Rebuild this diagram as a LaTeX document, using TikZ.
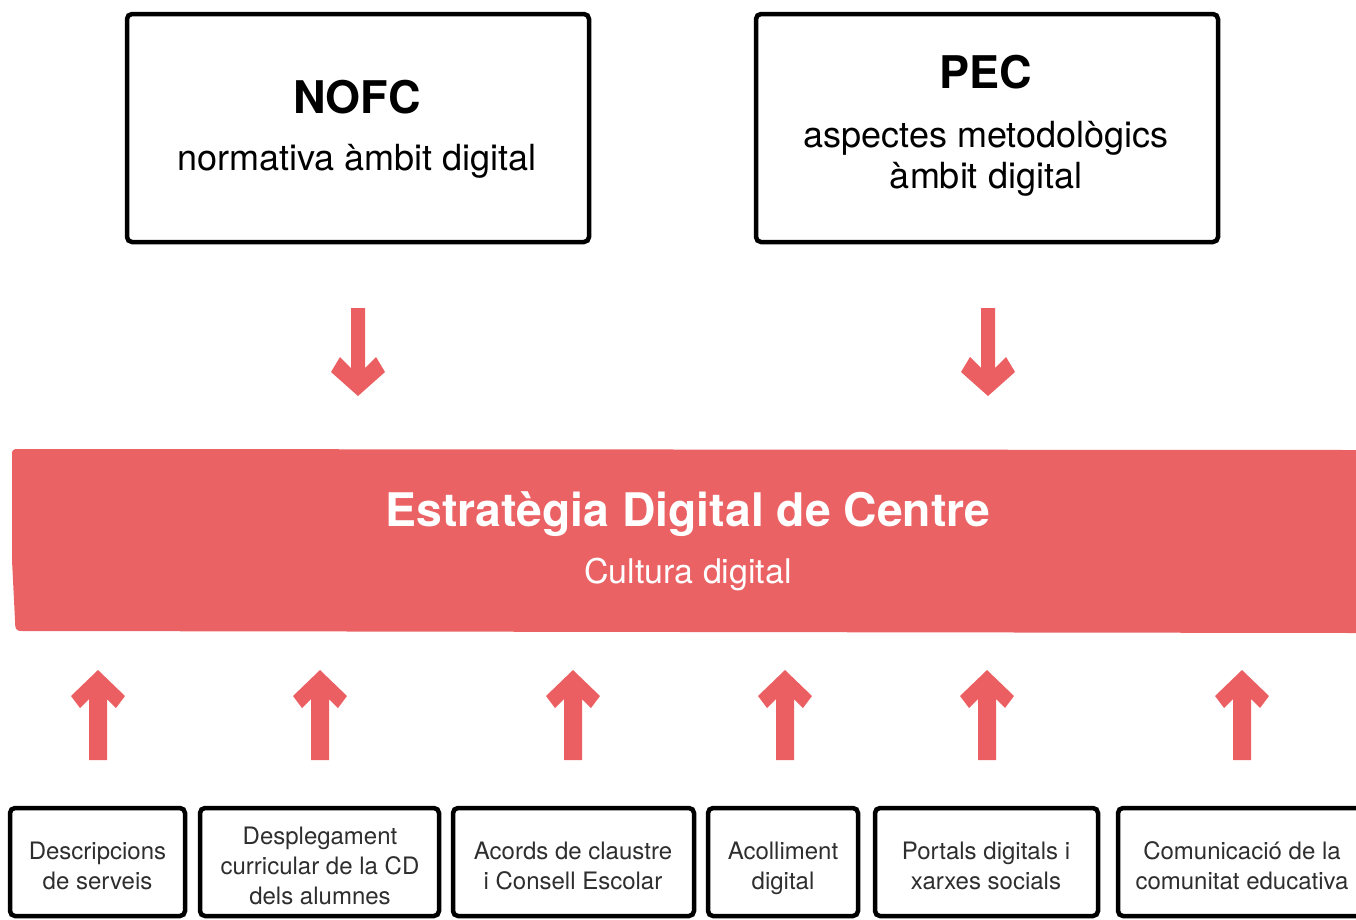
\documentclass[tikz,border=0pt]{standalone}
\usepackage{fontspec}
\setmainfont{TeX Gyre Heros}
\usetikzlibrary{calc}
\definecolor{edcred}{HTML}{EB6264}
\definecolor{arrred}{HTML}{EB5F62}
\tikzset{
  sketchbox/.style={draw=black, line width=4.5pt, rounded corners=5pt, fill=white, inner sep=0pt},
  toptitle/.style={font=\fontsize{45}{54}\selectfont\bfseries, inner sep=0pt},
  topsub/.style={font=\fontsize{36}{42}\selectfont, inner sep=0pt, align=center},
  smalltxt/.style={font=\fontsize{24}{30}\selectfont, inner sep=0pt, align=center, text=black!82},
  bandtitle/.style={font=\fontsize{46.3}{55}\selectfont\bfseries, text=white, inner sep=0pt},
  bandsub/.style={font=\fontsize{34}{40}\selectfont, text=white, inner sep=0pt},
}
\newcommand{\downarr}[1]{%
  \fill[arrred] ($(#1)+(-7,-44)$) -- ($(#1)+(7,-44)$) -- ($(#1)+(7,16)$) -- ($(#1)+(18,5)$)
    -- ($(#1)+(27,20)$) -- ($(#1)+(0,44)$) -- ($(#1)+(-27,20)$) -- ($(#1)+(-18,5)$) -- ($(#1)+(-7,16)$) -- cycle;}
\newcommand{\uparr}[1]{%
  \fill[arrred] ($(#1)+(0,-45)$) -- ($(#1)+(27,-19)$) -- ($(#1)+(18,-7)$) -- ($(#1)+(9,-16)$)
    -- ($(#1)+(9,45)$) -- ($(#1)+(-9,45)$) -- ($(#1)+(-9,-16)$) -- ($(#1)+(-18,-7)$) -- ($(#1)+(-27,-19)$) -- cycle;}
\begin{document}
\begin{tikzpicture}[x=1pt,y=-1pt]
\useasboundingbox (0,0) rectangle (1356,919);
% top boxes
\node[sketchbox, minimum width=462pt, minimum height=228pt] (nofc) at (358,128) {};
\node[toptitle] (nofct) at (357,97) {NOFC};
\node[topsub] (nofcs) at (357,161) {normativa àmbit digital};
\node[sketchbox, minimum width=462pt, minimum height=228pt] (pec) at (987,128) {};
\node[toptitle] (pect) at (986,72) {PEC};
\node[topsub] (pecs1) at (986,138) {aspectes metodològics};
\node[topsub] (pecs2) at (986,179) {àmbit digital};
% down arrows
\coordinate (d1) at (358,352);
\coordinate (d2) at (988,352);
\downarr{d1}
\downarr{d2}
% band
\fill[edcred] (18,449) -- (1356,450) -- (1356,633) -- (22,631)
  .. controls (15,631) and (15,628) .. (15,620) -- (12,560) -- (12,455)
  .. controls (12,450) and (13,449) .. (18,449) -- cycle;
\coordinate (band) at (688,540);
\node[bandtitle] (bt) at (688,514) {Estratègia Digital de Centre};
\node[bandsub] (bs) at (688,574) {Cultura digital};
% bottom boxes
\node[sketchbox, minimum width=175pt, minimum height=108pt] (b1) at (97.5,862) {};
\node[sketchbox, minimum width=239pt, minimum height=108pt] (b2) at (319.5,862) {};
\node[sketchbox, minimum width=241pt, minimum height=108pt] (b3) at (573.5,862) {};
\node[sketchbox, minimum width=150pt, minimum height=108pt] (b4) at (783,862) {};
\node[sketchbox, minimum width=223pt, minimum height=108pt] (b5) at (986.5,862) {};
\node[sketchbox, minimum width=260pt, minimum height=108pt] (b6) at (1248,862) {};
\node[smalltxt] (t1) at (97.5,868) {\strut Descripcions\\de serveis\strut};
\node[smalltxt] (t2) at (320,868) {\strut Desplegament\\curricular de la CD\\dels alumnes\strut};
\node[smalltxt] (t3) at (573,868) {\strut Acords de claustre\\i Consell Escolar\strut};
\node[smalltxt] (t4) at (783,868) {\strut Acolliment\\digital\strut};
\node[smalltxt] (t5) at (986,868) {\strut Portals digitals i\\xarxes socials\strut};
\node[smalltxt] (t6) at (1242,868) {\strut Comunicació de la\\comunitat educativa\strut};
% up arrows
\coordinate (u1) at (98,715);
\coordinate (u2) at (320,715);
\coordinate (u3) at (573,715);
\coordinate (u4) at (785,715);
\coordinate (u5) at (987,715);
\coordinate (u6) at (1242,715);
\uparr{u1}\uparr{u2}\uparr{u3}\uparr{u4}\uparr{u5}\uparr{u6}
\end{tikzpicture}
\end{document}
